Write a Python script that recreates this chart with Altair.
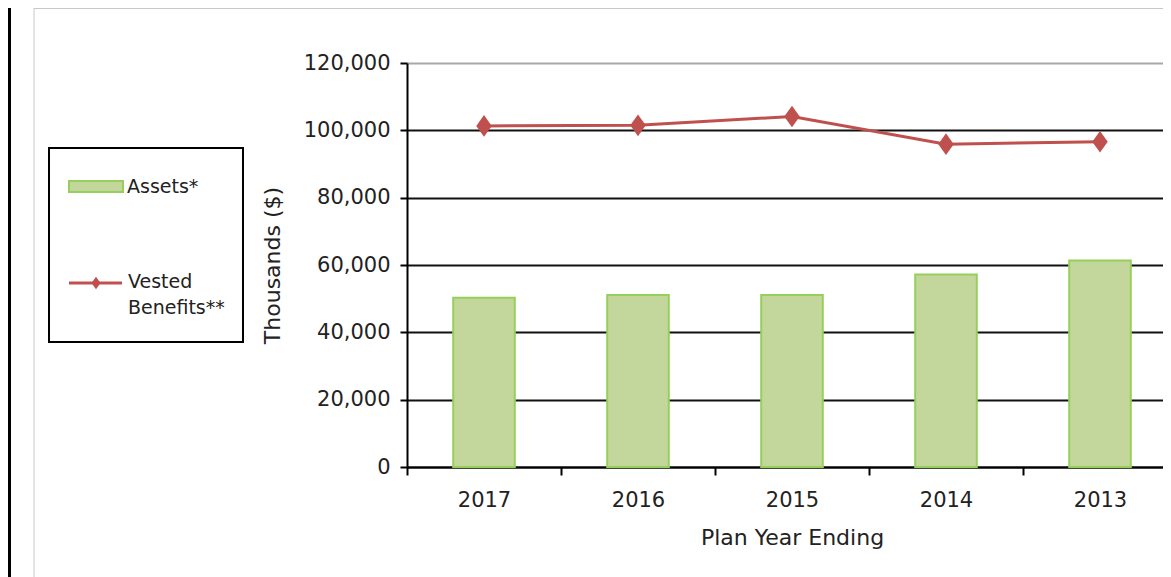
import altair as alt
import pandas as pd

# ---- data ----
years = ["2017", "2016", "2015", "2014", "2013"]
assets = [50300, 51100, 51100, 57200, 61300]
vested = [101300, 101500, 104100, 95900, 96600]
y_ticks = [0, 20000, 40000, 60000, 80000, 100000, 120000]
legend_labels = ["Assets*", "Vested", "Benefits**"]
x_title = "Plan Year Ending"
y_title = "Thousands ($)"

df = pd.DataFrame({"year": years, "assets": assets, "vested": vested})
one = pd.DataFrame({"k": [0]})

FONT = "DejaVu Sans"
TXT = "#222222"
BAR_FILL = "#c3d69b"
BAR_STROKE = "#96d05a"
RED = "#c0504d"

W, H = 756, 404
BAND_SPAN = 770
PAD = {"left": 399, "top": 55, "right": 0, "bottom": 110}
BOTTOM = H + PAD["bottom"]

x_enc = alt.X(
    "year:N",
    sort=years,
    scale=alt.Scale(range=[0, BAND_SPAN], paddingInner=0, paddingOuter=0),
    axis=alt.Axis(
        title=x_title,
        tickBand="extent",
        labelAngle=0,
        grid=False,
        domainColor="#000",
        domainWidth=2,
        tickColor="#000",
        tickWidth=2,
        tickSize=8,
        labelFont=FONT,
        labelFontSize=21,
        labelColor=TXT,
        labelBaseline="alphabetic",
        labelPadding=31,
        titleFont=FONT,
        titleFontSize=22,
        titleFontWeight="normal",
        titleColor=TXT,
        titleX=BAND_SPAN / 2,
        titleY=77,
        titleAlign="center",
        titleBaseline="alphabetic",
    ),
)

y_axis = alt.Axis(
    title=y_title,
    values=y_ticks,
    format=",d",
    grid=True,
    gridColor={"condition": {"test": "datum.value >= 120000", "value": "#a8a8a8"}, "value": "#111111"},
    gridWidth=2,
    domainColor="#000",
    domainWidth=2,
    tickColor="#000",
    tickWidth=2,
    tickSize=7,
    labelPadding=10,
    labelFont=FONT,
    labelFontSize=21,
    labelColor=TXT,
    titleFont=FONT,
    titleFontSize=22,
    titleFontWeight="normal",
    titleColor=TXT,
    titleX=-135,
    titleY=H / 2,
    titleAngle=270,
    titleAlign="center",
    titleBaseline="middle",
)

y_scale = alt.Scale(domain=[0, 120000], nice=False)

bars = alt.Chart(df).mark_bar(
    width=alt.RelativeBandSize(0.4), fill=BAR_FILL, stroke=BAR_STROKE, strokeWidth=2
).encode(x=x_enc, y=alt.Y("assets:Q", scale=y_scale, axis=y_axis))

line = alt.Chart(df).mark_line(color=RED, strokeWidth=3).encode(
    x=alt.X("year:N", sort=years), y=alt.Y("vested:Q", scale=y_scale)
)

DIAMOND = "M0,-1.4L1,0L0,1.4L-1,0Z"
points = alt.Chart(df).mark_point(
    shape=DIAMOND, filled=True, color=RED, size=240, opacity=1
).encode(x=alt.X("year:N", sort=years), y=alt.Y("vested:Q", scale=y_scale))

# ---- frame pieces ----
frame_left = alt.Chart(one).mark_rule(color="#c8c8c8", strokeWidth=1).encode(
    x=alt.value(-373), y=alt.value(-55), y2=alt.value(BOTTOM)
)
frame_top = alt.Chart(one).mark_rule(color="#c8c8c8", strokeWidth=1).encode(
    x=alt.value(-373), x2=alt.value(W), y=alt.value(-54.5)
)
black_bar = alt.Chart(one).mark_rect(color="#000").encode(
    x=alt.value(-399), x2=alt.value(-396), y=alt.value(-55), y2=alt.value(BOTTOM)
)

# ---- manual legend ----
leg_box = alt.Chart(one).mark_rect(fill="white", stroke="#000", strokeWidth=2).encode(
    x=alt.value(-358), x2=alt.value(-164), y=alt.value(85), y2=alt.value(279)
)
leg_swatch = alt.Chart(one).mark_rect(fill=BAR_FILL, stroke=BAR_STROKE, strokeWidth=2).encode(
    x=alt.value(-338), x2=alt.value(-284), y=alt.value(118), y2=alt.value(129)
)
leg_line = alt.Chart(one).mark_rule(color=RED, strokeWidth=3).encode(
    x=alt.value(-338), x2=alt.value(-285), y=alt.value(220)
)
leg_diamond = alt.Chart(one).mark_point(
    shape=DIAMOND, filled=True, color=RED, size=80, opacity=1
).encode(x=alt.value(-311), y=alt.value(220))

def leg_text(label, x, y):
    return alt.Chart(one).mark_text(
        align="left", baseline="middle", font=FONT, fontSize=19, color=TXT
    ).encode(x=alt.value(x), y=alt.value(y), text=alt.value(label))

leg_t1 = leg_text(legend_labels[0], -280, 124)
leg_t2 = leg_text(legend_labels[1], -279, 219)
leg_t3 = leg_text(legend_labels[2], -279, 245)

chart = alt.layer(
    frame_left, frame_top, black_bar,
    bars, line, points,
    leg_box, leg_swatch, leg_line, leg_diamond, leg_t1, leg_t2, leg_t3,
).properties(
    width=W,
    height=H,
    padding=PAD,
    autosize=alt.AutoSizeParams(type="none"),
    background="white",
).configure_view(stroke=None)

chart.save("out.html", embed_options={"renderer": "svg", "actions": False})
